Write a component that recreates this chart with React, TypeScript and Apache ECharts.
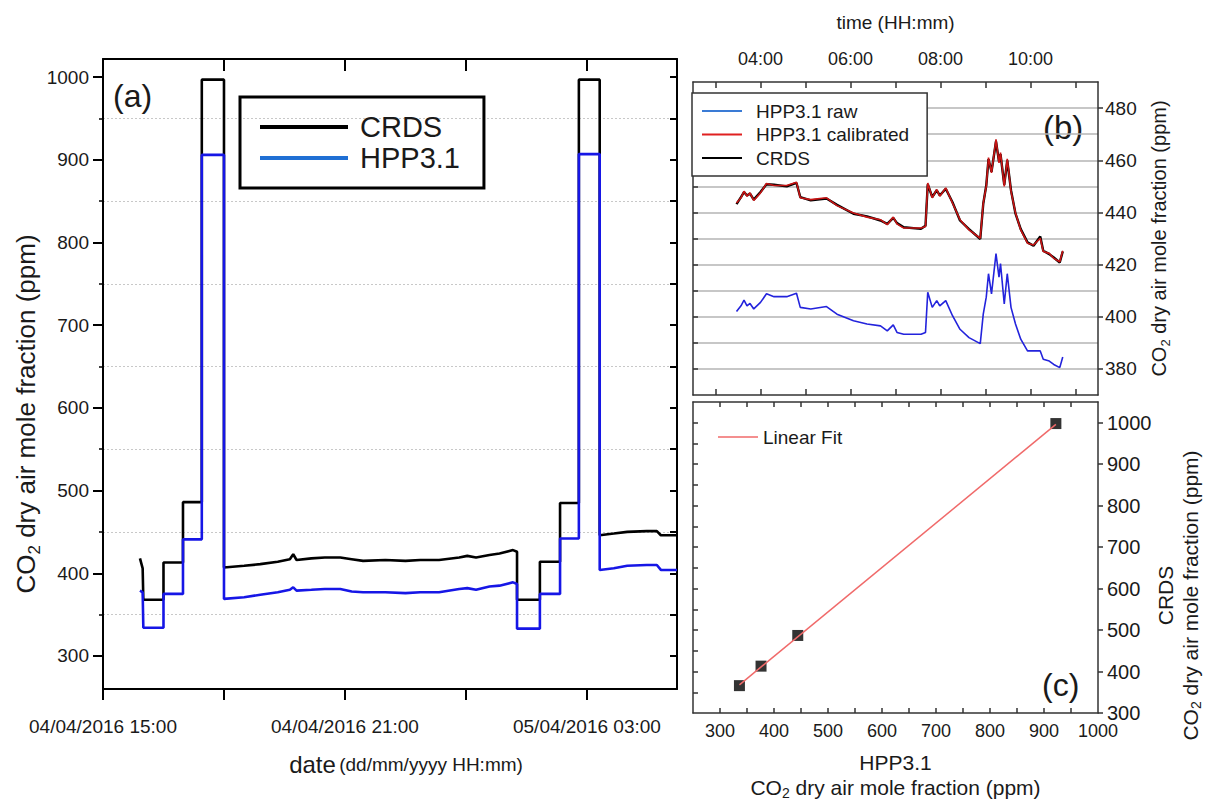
import React, { useEffect, useRef } from "react";
import * as echarts from "echarts";

const SANS = '"Liberation Sans", Arial, sans-serif';
const TXT = "#1a1a1a";

// ---------- Panel (a) ----------
const aTime = [
  "04/04/2016 15:55", "04/04/2016 15:59", "04/04/2016 16:00", "04/04/2016 16:30", "04/04/2016 16:30",
  "04/04/2016 16:59", "04/04/2016 16:59", "04/04/2016 17:27", "04/04/2016 17:27", "04/04/2016 18:00",
  "04/04/2016 18:00", "04/04/2016 18:30", "04/04/2016 18:54", "04/04/2016 19:20", "04/04/2016 19:38",
  "04/04/2016 19:43", "04/04/2016 19:48", "04/04/2016 20:10", "04/04/2016 20:30", "04/04/2016 20:53",
  "04/04/2016 21:10", "04/04/2016 21:27", "04/04/2016 22:00", "04/04/2016 22:30", "04/04/2016 22:52",
  "04/04/2016 23:20", "04/04/2016 23:50", "05/04/2016 00:02", "05/04/2016 00:15", "05/04/2016 00:35",
  "05/04/2016 00:50", "05/04/2016 01:10", "05/04/2016 01:16", "05/04/2016 01:16", "05/04/2016 01:50",
  "05/04/2016 01:50", "05/04/2016 02:20", "05/04/2016 02:20", "05/04/2016 02:48", "05/04/2016 02:48",
  "05/04/2016 03:19", "05/04/2016 03:19", "05/04/2016 03:40", "05/04/2016 04:00", "05/04/2016 04:29",
  "05/04/2016 04:44", "05/04/2016 04:50", "05/04/2016 05:14",
];
const aCrds = [
  418, 406, 368, 368, 413, 413, 486, 486, 997, 997,
  407, 409, 411, 414, 417, 423, 416, 418, 419, 419,
  417, 415, 416, 415, 416, 416, 419, 421, 419, 422,
  424, 428, 426, 368, 368, 414, 414, 485, 485, 997,
  997, 446, 448, 450, 451, 451, 446, 446,
];
const aHpp = [
  379, 377, 334, 334, 375, 375, 441, 441, 906, 906,
  369, 371, 374, 377, 380, 383, 379, 380, 381, 381,
  378, 377, 377, 376, 377, 377, 381, 382, 380, 384,
  385, 389, 387, 333, 333, 375, 375, 442, 442, 907,
  907, 404, 406, 409, 410, 410, 404, 404,
];
const aXMin = "04/04/2016 15:00";
const aXMax = "05/04/2016 05:14";
const aXTicks = ["04/04/2016 15:00", "04/04/2016 18:00", "04/04/2016 21:00", "05/04/2016 00:00", "05/04/2016 03:00"];
const aXLabels = ["04/04/2016 15:00", "04/04/2016 21:00", "05/04/2016 03:00"];
const aYMin = 260;
const aYMax = 1022;
const aYMajor = [300, 400, 500, 600, 700, 800, 900, 1000];
const aYMinor = [350, 450, 550, 650, 750, 850, 950];
const aYAll = [300, 350, 400, 450, 500, 550, 600, 650, 700, 750, 800, 850, 900, 950, 1000];

// ---------- Panel (b) ----------
const bTime = [
  "03:28", "03:34", "03:38", "03:42", "03:46", "03:51", "04:00", "04:08", "04:18", "04:35",
  "04:48", "04:53", "05:07", "05:28", "05:42", "06:04", "06:22", "06:40", "06:49", "06:57",
  "07:02", "07:11", "07:34", "07:40", "07:43", "07:49", "07:55", "07:59", "08:07", "08:16",
  "08:26", "08:38", "08:53", "08:57", "09:01", "09:04", "09:08", "09:14", "09:18", "09:20",
  "09:25", "09:29", "09:34", "09:40", "09:47", "09:56", "10:04", "10:13", "10:17", "10:25",
  "10:31", "10:39", "10:43",
];
const bRaw = [
  402.0, 404.2, 406.4, 404.2, 405.1, 403.0, 405.5, 408.8, 407.7, 407.7,
  409.0, 403.6, 403.0, 403.9, 401.0, 398.5, 397.2, 396.5, 394.6, 396.9,
  394.0, 393.3, 393.3, 394.0, 409.4, 403.6, 406.2, 404.2, 406.2, 400.4,
  395.2, 392.0, 389.7, 401.0, 407.5, 416.5, 408.8, 424.2, 415.2, 420.4,
  404.9, 416.5, 403.6, 397.2, 391.4, 386.9, 386.9, 386.9, 383.7, 383.0,
  381.7, 380.5, 384.6,
];
const bCal = [
  443.6, 445.6, 448.1, 446.2, 447.5, 444.6, 447.5, 451.1, 450.3, 450.3,
  451.6, 445.6, 444.9, 445.6, 442.6, 439.8, 438.2, 437.2, 435.3, 438.2,
  435.6, 434.0, 434.0, 434.6, 451.3, 445.6, 448.8, 446.2, 449.4, 443.6,
  437.2, 433.3, 430.1, 443.6, 450.0, 461.0, 455.2, 468.0, 459.0, 462.9,
  450.0, 460.5, 448.1, 439.8, 433.3, 428.2, 427.5, 430.1, 425.0, 424.3,
  422.4, 421.1, 425.3,
];
const bCrds = [
  443.2, 445.9, 447.8, 446.5, 447.2, 444.9, 447.8, 450.8, 450.6, 450.0,
  451.3, 445.9, 444.6, 445.3, 442.9, 439.5, 438.5, 436.9, 435.6, 437.9,
  435.9, 434.3, 433.7, 434.9, 450.8, 445.9, 448.5, 446.5, 449.1, 443.9,
  436.9, 433.6, 429.8, 443.3, 450.3, 460.4, 455.6, 467.2, 459.5, 462.3,
  450.6, 459.9, 448.5, 439.5, 433.6, 428.5, 427.2, 430.8, 425.3, 424.0,
  422.7, 420.8, 425.0,
];
const bXMin = "02:30";
const bXMax = "11:30";
const bXTicks = ["03:00", "04:00", "05:00", "06:00", "07:00", "08:00", "09:00", "10:00", "11:00"];
const bXLabels = ["04:00", "06:00", "08:00", "10:00"];
const bYMin = 370;
const bYMax = 490;
const bYLabels = [380, 400, 420, 440, 460, 480];
const bYGrid = [380, 390, 400, 410, 420, 430, 440, 450, 460, 470, 480];

// ---------- Panel (c) ----------
const cHpp = [336, 376, 444, 922];
const cCrds = [366, 413, 487, 998];
const fitHpp = [336, 922];
const fitCrds = [368, 996];
const cXMin = 250;
const cXMax = 1000;
const cYMin = 300;
const cYMax = 1050;
const cXLabels = [300, 400, 500, 600, 700, 800, 900, 1000];
const cXMinor = [300, 350, 400, 450, 500, 550, 600, 650, 700, 750, 800, 850, 900, 950];
const cYLabels = [300, 400, 500, 600, 700, 800, 900, 1000];
const cYMinor = [350, 400, 450, 500, 550, 600, 650, 700, 750, 800, 850, 900, 950, 1000];

// ---------- helpers ----------
const toHours = (s: string) => (+s.slice(0, 2) - 4) * 24 + +s.slice(11, 13) + +s.slice(14, 16) / 60;
const hm = (s: string) => +s.slice(0, 2) * 60 + +s.slice(3, 5);
const pad2 = (n: number) => String(n).padStart(2, "0");
const fmtDate = (v: number) => {
  const day = 4 + Math.floor((v + 1e-6) / 24);
  const h = Math.round(v - (day - 4) * 24);
  return `${pad2(day)}/04/2016 ${pad2(h)}:00`;
};
const fmtHM = (v: number) => `${pad2(Math.round(v / 60))}:00`;
const fmtNum = (v: number) => String(Math.round(v));

const axLine = (c: string, w: number, show = true) => ({ show, onZero: false, lineStyle: { color: c, width: w } });
const noLabel = { show: false };
const noSplit = { show: false };
const co2Rich = (size: number, sub: number, lh: number) => ({
  m: { fontSize: size, fontFamily: SANS, color: TXT, lineHeight: lh },
  s: { fontSize: sub, fontFamily: SANS, color: TXT, verticalAlign: "bottom" },
});

export default function App() {
  const ref = useRef<HTMLDivElement>(null);
  useEffect(() => {
    if (!ref.current) return;
    const chart = echarts.init(ref.current, undefined, { renderer: "svg" });
    const option: any = {
      animation: false,
      backgroundColor: "#ffffff",
      grid: [
        { left: 103, top: 59, width: 574, height: 630, containLabel: false, outerBoundsMode: "none" },
        { left: 693, top: 82, width: 405, height: 313, containLabel: false, outerBoundsMode: "none" },
        { left: 693, top: 402, width: 405, height: 311, containLabel: false, outerBoundsMode: "none" },
      ],
      legend: [
        {
          left: 240, top: 97, orient: "vertical", selectedMode: false,
          data: [{ name: "CRDS" }, { name: "HPP3.1", itemStyle: { color: "#1f6fd4" } }],
          icon: "rect", itemWidth: 88, itemHeight: 4, itemGap: 1,
          padding: [15, 24, 15, 20], borderColor: "#000", borderWidth: 3,
          textStyle: { fontFamily: SANS, fontSize: 29, color: TXT, lineHeight: 30, padding: [0, 0, 0, 7] },
        },
        {
          left: 692, top: 93, orient: "vertical", selectedMode: false,
          data: [
            { name: "HPP3.1 raw", itemStyle: { color: "#3a7bd5" } },
            { name: "HPP3.1 calibrated", itemStyle: { color: "#e02020" } },
            { name: "CRDS", itemStyle: { color: "#000" } },
          ],
          icon: "rect", itemWidth: 40, itemHeight: 2, itemGap: 1.5,
          padding: [7, 18, 7, 10], borderColor: "#333", borderWidth: 1.5, backgroundColor: "#fff",
          textStyle: { fontFamily: SANS, fontSize: 19, color: TXT, lineHeight: 22, padding: [0, 0, 0, 9] },
        },
        {
          left: 718, top: 425, orient: "vertical", selectedMode: false,
          data: [{ name: "Linear Fit" }],
          icon: "rect", itemWidth: 40, itemHeight: 1.5, padding: 0,
          textStyle: { fontFamily: SANS, fontSize: 19, color: TXT, lineHeight: 24 },
        },
      ],
      xAxis: [
        {
          gridIndex: 0, type: "value", position: "bottom",
          min: toHours(aXMin), max: toHours(aXMax),
          axisLine: axLine("#000", 2),
          axisTick: { show: true, inside: false, length: 11, customValues: aXTicks.map(toHours), lineStyle: { color: "#000", width: 2 } },
          axisLabel: { customValues: aXLabels.map(toHours), formatter: fmtDate, margin: 28, fontFamily: SANS, fontSize: 19, color: TXT },
          splitLine: noSplit,
          name: "{d|date} {u|(dd/mm/yyyy HH:mm)}",
          nameLocation: "middle", nameGap: 63,
          nameTextStyle: {
            padding: [0, 0, 0, 32],
            rich: {
              d: { fontFamily: SANS, fontSize: 24, color: TXT },
              u: { fontFamily: SANS, fontSize: 19, color: TXT },
            },
          },
        },
        {
          gridIndex: 0, type: "value", position: "top",
          min: toHours(aXMin), max: toHours(aXMax),
          axisLine: axLine("#000", 2),
          axisTick: { show: true, inside: true, length: 12, customValues: aXTicks.map(toHours), lineStyle: { color: "#000", width: 2 } },
          axisLabel: noLabel, splitLine: noSplit,
        },
        {
          gridIndex: 1, type: "value", position: "top",
          min: hm(bXMin), max: hm(bXMax),
          axisLine: axLine("#333", 1.5),
          axisTick: { show: true, inside: true, length: 6, customValues: bXTicks.map(hm), lineStyle: { color: "#333", width: 1.5 } },
          axisLabel: { customValues: bXLabels.map(hm), formatter: fmtHM, margin: 14, fontFamily: SANS, fontSize: 18, color: TXT },
          splitLine: noSplit,
          name: "time (HH:mm)", nameLocation: "middle", nameGap: 50,
          nameTextStyle: { fontFamily: SANS, fontSize: 19, color: TXT },
        },
        {
          gridIndex: 1, type: "value", position: "bottom",
          min: hm(bXMin), max: hm(bXMax),
          axisLine: axLine("#333", 1.5),
          axisTick: { show: true, inside: true, length: 6, customValues: bXTicks.map(hm), lineStyle: { color: "#333", width: 1.5 } },
          axisLabel: noLabel, splitLine: noSplit,
        },
        {
          gridIndex: 2, type: "value", position: "bottom",
          min: cXMin, max: cXMax,
          axisLine: axLine("#333", 1.5),
          axisTick: { show: true, inside: true, length: 5, customValues: cXMinor, lineStyle: { color: "#333", width: 1.5 } },
          axisLabel: { customValues: cXLabels, formatter: fmtNum, margin: 9, fontFamily: SANS, fontSize: 18, color: TXT },
          splitLine: noSplit,
          name: "{m|HPP3.1}\n{m|CO}{s|2}{m| dry air mole fraction (ppm)}",
          nameLocation: "middle", nameGap: 37,
          nameTextStyle: { rich: co2Rich(21, 14, 25) },
        },
        {
          gridIndex: 2, type: "value", position: "top",
          min: cXMin, max: cXMax,
          axisLine: axLine("#333", 1.5),
          axisTick: { show: true, inside: true, length: 5, customValues: cXMinor, lineStyle: { color: "#333", width: 1.5 } },
          axisLabel: noLabel, splitLine: noSplit,
        },
      ],
      yAxis: [
        {
          gridIndex: 0, type: "value", position: "left", min: aYMin, max: aYMax,
          axisLine: axLine("#000", 2),
          axisTick: { show: true, inside: false, length: 10, customValues: aYMajor, lineStyle: { color: "#000", width: 2 } },
          axisLabel: { customValues: aYMajor, formatter: fmtNum, margin: 14, fontFamily: SANS, fontSize: 19, color: TXT },
          splitLine: noSplit,
          name: "{m|CO}{s|2}{m| dry air mole fraction (ppm)}",
          nameLocation: "middle", nameRotate: 90, nameGap: 41,
          nameTextStyle: { padding: [0, 80, 0, 0], rich: co2Rich(26, 17, 34) },
        },
        {
          gridIndex: 0, type: "value", position: "left", min: aYMin, max: aYMax,
          axisLine: axLine("#000", 2, false),
          axisTick: { show: true, inside: false, length: 4, customValues: aYMinor, lineStyle: { color: "#000", width: 1.5 } },
          axisLabel: noLabel,
          splitLine: { show: true, lineStyle: { color: "#c8c8c8", width: 1.2, type: [2, 2] } },
        },
        {
          gridIndex: 0, type: "value", position: "right", min: aYMin, max: aYMax,
          axisLine: axLine("#000", 2),
          axisTick: { show: true, inside: true, length: 7, customValues: aYAll, lineStyle: { color: "#000", width: 2 } },
          axisLabel: noLabel, splitLine: noSplit,
        },
        {
          gridIndex: 1, type: "value", position: "right", min: bYMin, max: bYMax,
          axisLine: axLine("#333", 1.5),
          axisTick: { show: true, inside: false, length: 5, customValues: bYLabels, lineStyle: { color: "#333", width: 1.5 } },
          axisLabel: { customValues: bYLabels, formatter: fmtNum, margin: 7, fontFamily: SANS, fontSize: 19, color: TXT },
          splitLine: noSplit,
          name: "{m|CO}{s|2}{m| dry air mole fraction (ppm)}",
          nameLocation: "middle", nameRotate: 90, nameGap: 48,
          nameTextStyle: { rich: co2Rich(20, 13, 26) },
        },
        {
          gridIndex: 1, type: "value", position: "left", min: bYMin, max: bYMax,
          axisLine: axLine("#333", 1.5),
          axisTick: { show: true, inside: true, length: 5, customValues: bYGrid, lineStyle: { color: "#333", width: 1.5 } },
          axisLabel: noLabel,
          splitLine: { show: true, lineStyle: { color: "#b4b4b4", width: 1.5 } },
        },
        {
          gridIndex: 2, type: "value", position: "right", min: cYMin, max: cYMax,
          axisLine: axLine("#333", 1.5),
          axisTick: { show: true, inside: false, length: 5, customValues: cYLabels, lineStyle: { color: "#333", width: 1.5 } },
          axisLabel: { customValues: cYLabels, formatter: fmtNum, margin: 9, fontFamily: SANS, fontSize: 20, color: TXT },
          splitLine: noSplit,
          name: "{m|CRDS}\n{m|CO}{s|2}{m| dry air mole fraction (ppm)}",
          nameLocation: "middle", nameRotate: 90, nameGap: 29,
          nameTextStyle: { padding: [0, 76, 0, 0], rich: co2Rich(21, 14, 25) },
        },
        {
          gridIndex: 2, type: "value", position: "left", min: cYMin, max: cYMax,
          axisLine: axLine("#333", 1.5),
          axisTick: { show: true, inside: true, length: 5, customValues: cYMinor, lineStyle: { color: "#333", width: 1.5 } },
          axisLabel: noLabel, splitLine: noSplit,
        },
      ],
      series: [
        {
          name: "CRDS", type: "line", xAxisIndex: 0, yAxisIndex: 0, showSymbol: false, symbol: "none",
          data: aTime.map((t, i) => [toHours(t), aCrds[i]]),
          color: "#000", lineStyle: { color: "#000", width: 2.6 },
        },
        {
          name: "HPP3.1", type: "line", xAxisIndex: 0, yAxisIndex: 0, showSymbol: false, symbol: "none",
          data: aTime.map((t, i) => [toHours(t), aHpp[i]]),
          color: "#1616e6", lineStyle: { color: "#1616e6", width: 2.6 },
        },
        {
          name: "HPP3.1 raw", type: "line", xAxisIndex: 2, yAxisIndex: 3, showSymbol: false, symbol: "none",
          data: bTime.map((t, i) => [hm(t), bRaw[i]]),
          color: "#2323dc", lineStyle: { color: "#2323dc", width: 1.6 },
        },
        {
          name: "CRDS", type: "line", xAxisIndex: 2, yAxisIndex: 3, showSymbol: false, symbol: "none",
          data: bTime.map((t, i) => [hm(t), bCrds[i]]),
          color: "#000", lineStyle: { color: "#000", width: 2.4 },
        },
        {
          name: "HPP3.1 calibrated", type: "line", xAxisIndex: 2, yAxisIndex: 3, showSymbol: false, symbol: "none",
          data: bTime.map((t, i) => [hm(t), bCal[i]]),
          color: "#c81414", lineStyle: { color: "#c81414", width: 1.6 },
        },
        {
          name: "Linear Fit", type: "line", xAxisIndex: 4, yAxisIndex: 5, showSymbol: false, symbol: "none",
          data: fitHpp.map((x, i) => [x, fitCrds[i]]),
          color: "#f06a6a", lineStyle: { color: "#f06a6a", width: 1.5 },
        },
        {
          name: "calibration points", type: "scatter", xAxisIndex: 4, yAxisIndex: 5,
          symbol: "rect", symbolSize: 11,
          data: cHpp.map((x, i) => [x, cCrds[i]]),
          itemStyle: { color: "#000" },
        },
      ],
      graphic: [
        { type: "text", left: 113, top: 80, style: { text: "(a)", font: `32px ${SANS}`, fill: TXT } },
        { type: "text", left: 1043, top: 111, style: { text: "(b)", font: `33px ${SANS}`, fill: TXT } },
        { type: "text", left: 1042, top: 669, style: { text: "(c)", font: `32px ${SANS}`, fill: TXT } },
      ],
    };
    chart.setOption(option);
    return () => chart.dispose();
  }, []);
  return <div ref={ref} style={{ position: "absolute", left: 0, top: 0, width: 1207, height: 800 }} />;
}
